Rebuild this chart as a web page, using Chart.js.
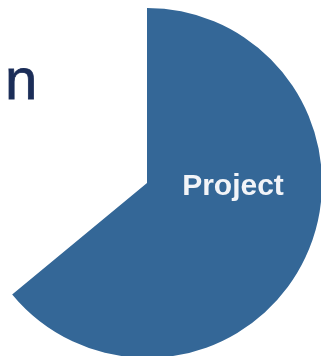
<!DOCTYPE html>
<html>
<head>
<meta charset="utf-8">
<script src="https://cdn.jsdelivr.net/npm/chart.js@4"></script>
<style>
  html, body { margin: 0; padding: 0; background: #fff; overflow: hidden; }
  #wrap { position: relative; width: 321px; height: 356px; overflow: hidden; }
  #title {
    position: absolute; left: 5px; top: 45px; z-index: 2;
    font: 58px "Liberation Sans", Arial, sans-serif; color: #1b2d58;
    -webkit-text-stroke: 0.8px #1b2d58;
  }
  #box { position: absolute; left: -28px; top: 8px; width: 350px; height: 350px; z-index: 1; }
</style>
</head>
<body>
<div id="wrap">
  <div id="title">n</div>
  <div id="box"><canvas id="pie"></canvas></div>
</div>
<script>
const labels = ["Project", "Other"];
const values = [64, 36];
const colors = ["#346797", "rgba(255,255,255,0)"];

// write the first slice's name inside it
const sliceLabel = {
  id: "sliceLabel",
  afterDatasetsDraw(chart) {
    const arc = chart.getDatasetMeta(0).data[0];
    const c = chart.ctx;
    c.save();
    c.font = "bold 30px 'Liberation Sans', Arial, sans-serif";
    c.fillStyle = "#f2f4f8";
    c.textAlign = "center";
    c.textBaseline = "middle";
    c.fillText(labels[0], arc.x + 86, arc.y + 4);
    c.restore();
  }
};

document.addEventListener("DOMContentLoaded", function () {
  const ctx = document.getElementById("pie").getContext("2d");
  new Chart(ctx, {
    type: "pie",
    data: {
      labels: labels,
      datasets: [{ data: values, backgroundColor: colors, borderWidth: 0 }]
    },
    options: {
      responsive: true,
      maintainAspectRatio: false,
      animation: false,
      layout: { padding: 0 },
      plugins: { legend: { display: false }, tooltip: { enabled: false } }
    },
    plugins: [sliceLabel]
  });
});
</script>
</body>
</html>
